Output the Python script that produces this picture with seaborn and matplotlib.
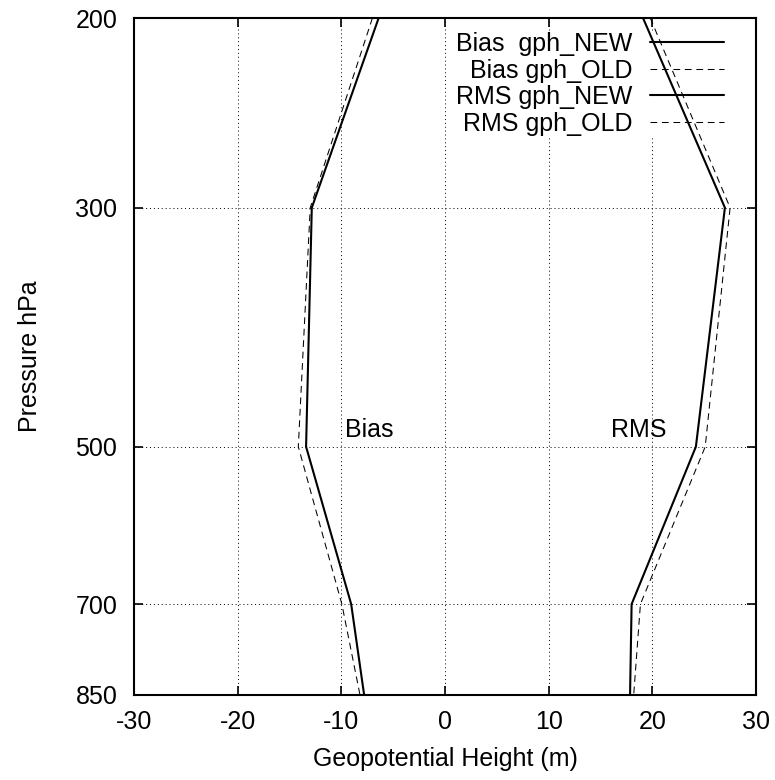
import matplotlib
matplotlib.use("Agg")
import matplotlib.pyplot as plt
from matplotlib.ticker import FixedLocator, FixedFormatter, NullLocator
import pandas as pd
import seaborn as sns

# pressure levels (hPa)
levels = [200, 300, 500, 700, 850]

# geopotential height stats (m)
bias_new = [-6.4, -12.85, -13.4, -9.05, -7.8]
bias_old = [-7.0, -13.0, -14.15, -9.95, -8.2]
rms_new = [19.1, 27.0, 24.2, 18.0, 17.85]
rms_old = [19.8, 27.5, 25.1, 18.85, 18.2]

series = {
    "Bias  gph_NEW": bias_new,
    "Bias gph_OLD": bias_old,
    "RMS gph_NEW": rms_new,
    "RMS gph_OLD": rms_old,
}

FS = 18

sns.set_style("ticks")
plt.rcParams["font.family"] = ["Liberation Sans", "DejaVu Sans"]
plt.rcParams["font.size"] = FS
plt.rcParams["axes.unicode_minus"] = False
plt.rcParams["text.color"] = "black"

fig = plt.figure(figsize=(7.75, 7.8), dpi=100)
ax = fig.add_axes([0.1729, 0.109, 0.8026, 0.8679])

for name, vals in series.items():
    df = pd.DataFrame({"gph": vals, "p": levels})
    new = name.endswith("NEW")
    sns.lineplot(
        data=df, x="gph", y="p", sort=False, estimator=None, ax=ax,
        color="black",
        linewidth=1.5 if new else 0.75,
        linestyle="-" if new else (0, (6.5, 4.5)),
        label=name, zorder=3,
    )

ax.set_yscale("log")
ax.set_ylim(850, 200)
ax.set_xlim(-30, 30)
ax.yaxis.set_major_locator(FixedLocator(levels))
ax.yaxis.set_major_formatter(FixedFormatter([str(v) for v in levels]))
ax.yaxis.set_minor_locator(NullLocator())
ax.set_xticks(range(-30, 31, 10))

ax.grid(True, color="black", linestyle=(0, (1, 3)), linewidth=0.7)
ax.set_axisbelow(True)
for s in ax.spines.values():
    s.set_linewidth(1.5)
    s.set_color("black")
ax.tick_params(direction="in", length=6.5, width=1.2, top=True, right=True,
               labelsize=FS, colors="black")
ax.tick_params(axis="x", pad=11)
ax.tick_params(axis="y", pad=12)

ax.set_xlabel("Geopotential Height (m)", fontsize=FS, labelpad=9, color="black")
ax.set_ylabel("Pressure hPa", fontsize=FS, labelpad=24, color="black")

ax.text(-9.65, 490, "Bias", fontsize=FS, ha="left", va="baseline")
ax.text(16.0, 490, "RMS", fontsize=FS, ha="left", va="baseline")

leg = ax.legend(
    loc="upper right", bbox_to_anchor=(0.9486, 0.979), markerfirst=False,
    frameon=True, fancybox=False, edgecolor="none", facecolor="white",
    framealpha=1, handlelength=2.95, handletextpad=0.72, labelspacing=0.1,
    borderpad=0.0, borderaxespad=0.0, fontsize=FS,
)
leg.set_zorder(2)
for t in leg.get_texts():
    t.set_color("black")

fig.savefig("out.png", dpi=100)
